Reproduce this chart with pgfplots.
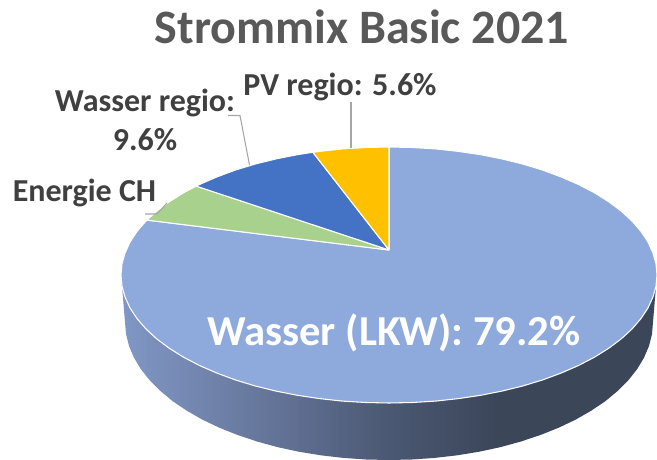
\documentclass[border=0pt]{standalone}
\usepackage{pgfplots}
\pgfplotsset{compat=1.18}
\usepackage{fontspec}
\setmainfont{Carlito}
\definecolor{top}{HTML}{8EA9DB}
\definecolor{blue}{HTML}{4472C4}
\definecolor{green}{HTML}{A9D18E}
\definecolor{yel}{HTML}{FFC000}
\definecolor{title}{HTML}{595959}
\definecolor{lab}{HTML}{404040}
\definecolor{lead}{HTML}{A6A6A6}
\definecolor{sa}{HTML}{8098C6}
\definecolor{sb}{HTML}{7386AF}
\definecolor{sc}{HTML}{606F92}
\definecolor{sd}{HTML}{4B5873}
\definecolor{se}{HTML}{3B4659}
\pgfdeclarehorizontalshading{sideshade}{100bp}{color(0bp)=(sa);color(25bp)=(sa);color(32bp)=(sb);color(41bp)=(sc);color(50bp)=(sd);color(60bp)=(se);color(75bp)=(se);color(100bp)=(se)}
\begin{document}
\begin{tikzpicture}
\begin{axis}[scale only axis,width=492.75pt,height=345pt,xmin=0,xmax=657,ymin=0,ymax=460,y dir=reverse,hide axis]
% side wall
\addplot[forget plot,draw=none,shade,shading=sideshade] coordinates {
(121,275)(122,286.2)(125,322)(126,334)(129,346)(134,357.7)(140.9,369.2)(149.7,380.3)(160.4,391)(172.7,401.2)(186.8,410.7)(202.3,419.6)(219.3,427.7)(237.6,435)(257,441.5)(277.4,447.1)(298.7,451.7)(320.7,455.3)(343.2,457.9)(366,459.5)(389,460)(412,459.5)(434.8,457.9)(457.3,455.3)(479.3,451.7)(500.6,447.1)(521,441.5)(540.4,435)(558.7,427.7)(575.7,419.6)(591.2,410.7)(605.3,401.2)(617.6,391)(628.3,380.3)(637.1,369.2)(644,357.7)(649,346)(652,334)(653,322)(656,286.2)(657,275)(121,275)};
% Wasser (LKW)
\addplot[forget plot,fill=top,draw=white,line width=0.8pt,line join=round] coordinates {
(389,250)(146.9,220.1)(146.1,220.9)(137.2,231.2)(130.1,241.9)(125.1,252.8)(122,263.8)(121,275)(122,286.2)(125.1,297.2)(130.1,308.1)(137.2,318.8)(146.1,329.1)(156.9,339)(169.5,348.4)(183.7,357.3)(199.5,365.5)(216.7,373)(235.3,379.9)(255,385.9)(275.7,391)(297.3,395.3)(319.6,398.6)(342.5,401.1)(365.6,402.5)(389,403)(412.4,402.5)(435.5,401.1)(458.4,398.6)(480.7,395.3)(502.3,391)(523,385.9)(542.7,379.9)(561.3,373)(578.5,365.5)(594.3,357.3)(608.5,348.4)(621.1,339)(631.9,329.1)(640.8,318.8)(647.9,308.1)(652.9,297.2)(656,286.2)(657,275)(656,263.8)(652.9,252.8)(647.9,241.9)(640.8,231.2)(631.9,220.9)(621.1,211)(608.5,201.6)(594.3,192.7)(578.5,184.5)(561.3,177)(542.7,170.1)(523,164.1)(502.3,159)(480.7,154.7)(458.4,151.4)(435.5,148.9)(412.4,147.5)(389,147)(389,250)};
% Energie CH
\addplot[forget plot,fill=green,draw=white,line width=0.8pt,line join=round] coordinates {
(389,250)(196.2,186.1)(183.7,192.7)(169.5,201.6)(156.9,211)(146.9,220.1)(389,250)};
% Wasser regio
\addplot[forget plot,fill=blue,draw=white,line width=0.8pt,line join=round] coordinates {
(389,250)(312.9,152.3)(297.3,154.7)(275.7,159)(255,164.1)(235.3,170.1)(216.7,177)(199.5,184.5)(196.2,186.1)(389,250)};
% PV regio
\addplot[forget plot,fill=yel,draw=white,line width=0.8pt,line join=round] coordinates {
(389,250)(389,147)(365.6,147.5)(342.5,148.9)(319.6,151.4)(312.9,152.3)(389,250)};
% leaders
\addplot[forget plot,lead,line width=0.8pt] coordinates {(351,102)(351,148)};
\addplot[forget plot,lead,line width=0.8pt] coordinates {(228,115.5)(240,115.5)(249.5,165)};
\addplot[forget plot,lead,line width=0.8pt] coordinates {(145,214)(157,214)(167,203)};
\draw[draw=none] (axis cs:0,0) rectangle (axis cs:657,460);
\node[anchor=base,text=title,font=\fontsize{36}{42}\selectfont\bfseries,inner sep=0pt] at (axis cs:362,44) {Strommix Basic 2021};
\node[anchor=base,text=lab,font=\fontsize{24}{28}\selectfont\bfseries,inner sep=0pt] at (axis cs:340,95) {PV regio: 5.6\%};
\node[anchor=base,text=lab,font=\fontsize{24}{28}\selectfont\bfseries,inner sep=0pt] at (axis cs:145,112) {Wasser regio:};
\node[anchor=base,text=lab,font=\fontsize{24}{28}\selectfont\bfseries,inner sep=0pt] at (axis cs:145,151) {9.6\%};
\node[anchor=base,text=lab,font=\fontsize{24}{28}\selectfont\bfseries,inner sep=0pt] at (axis cs:84.5,201) {Energie CH};
\node[anchor=base,text=white,font=\fontsize{32}{38}\selectfont\bfseries,inner sep=0pt] at (axis cs:394,345) {Wasser (LKW): 79.2\%};
\end{axis}
\end{tikzpicture}
\end{document}
